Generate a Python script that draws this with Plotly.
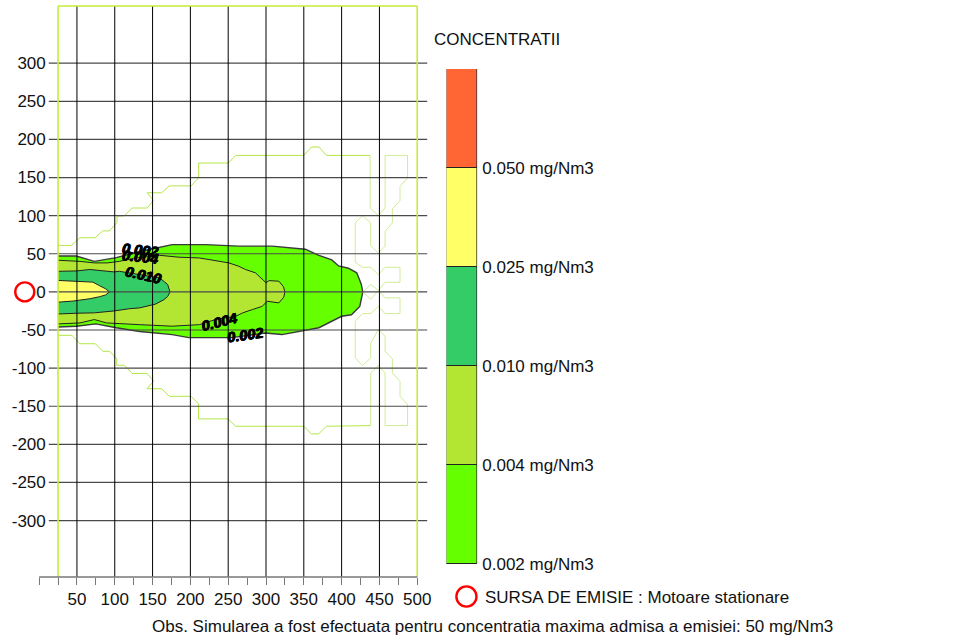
import plotly.graph_objects as go

# ---------------- data ----------------
# axis ticks
x_major = [50, 100, 150, 200, 250, 300, 350, 400, 450, 500]
x_minor = [0, 25, 75, 125, 175, 225, 275, 325, 375, 425, 475]
y_ticks = [300, 250, 200, 150, 100, 50, 0, -50, -100, -150, -200, -250, -300]

# concentration levels (mg/Nm3) and their colours (band above each level)
levels = [0.002, 0.004, 0.010, 0.025, 0.050]
band_colors = ["#66ff00", "#b3e633", "#33cc66", "#ffff66", "#ff6633"]

# contour 0.002 (upper / lower edge, left -> tip)
c002_x_up = [25, 49, 73, 102, 133, 155, 176, 220, 264, 308, 352, 370, 387, 396, 409, 420, 426, 428]
c002_y_up = [47, 47, 40, 45, 53, 58, 62, 62, 60, 60, 56, 48, 42, 34, 31, 25, 10, 0]
c002_x_lo = [25, 49, 75, 102, 133, 150, 176, 198, 229, 255, 299, 321, 352, 370, 400, 413, 424, 428]
c002_y_lo = [-46, -45, -42, -47, -52, -54, -56, -60, -60, -60, -54, -56, -50, -47, -32, -30, -19, 0]

# contour 0.004
c004_x_up = [25, 54, 73, 90, 106, 125, 159, 185, 212, 238, 251, 264, 273, 286, 295, 300, 304, 317, 323, 325]
c004_y_up = [41.5, 40, 38, 38, 40, 44, 48, 45.5, 44.5, 40, 38, 33.6, 29.3, 25, 16, 12, 14.8, 14, 7, 0]
c004_x_lo = [25, 54, 73, 89, 133, 176, 212, 234, 260, 269, 282, 295, 301.5, 317, 323.5, 325]
c004_y_lo = [-42, -40.7, -36.3, -40.7, -43, -45, -43, -36, -32, -27.6, -23.2, -19, -12.3, -14.4, -7, 0]

# contour 0.010
c010_x_up = [25, 50, 67, 99, 106, 133, 159, 166, 170, 173]
c010_y_up = [27, 27.5, 29.4, 26.2, 27, 23, 18.4, 13, 9.6, 0]
c010_x_lo = [25, 50, 73, 99, 120, 133, 154, 165, 170, 173]
c010_y_lo = [-29, -28, -27.5, -25, -22, -21, -16, -10.2, -6, 0]

# contour 0.025
c025_x_up = [25, 58, 71, 80, 88, 93]
c025_y_up = [15, 14, 12.8, 8, 4, 0]
c025_x_lo = [25, 45, 67, 80, 88, 93]
c025_y_lo = [-13.5, -12, -9, -6.3, -4, 0]

# faint outer iso-line (stepped), upper branch
out_up_x = [25, 43, 54, 74, 84, 93, 103, 103, 113, 123, 143, 151, 143, 162, 172, 201, 211, 211,
            250, 260, 350, 360, 370, 380, 437.7]
out_up_y = [61, 61, 71, 71, 80, 80, 91, 99, 100, 110, 110, 120, 130, 130, 139, 139, 150, 169,
            169, 179, 179, 190, 190, 179, 179]
# faint outer iso-line, lower branch
out_lo_x = [25, 43.5, 53.6, 74.3, 84.3, 93.1, 102.7, 102.7, 112.9, 123, 142.7, 151.4, 142.7, 162,
            172.1, 200.7, 210.7, 210.7, 249.8, 259.9, 349.9, 360, 369.6, 379.8, 438.5]
out_lo_y = [-57, -57, -68, -68, -78, -78, -87.5, -96.3, -96.3, -107, -107, -117, -127, -127,
            -137, -137, -146.5, -166.6, -166.6, -176.3, -176.3, -186.3, -186.3, -176.3, -175.4]
# faint iso-line wiggles near the right border (upper / lower)
edge_up_x = [437.7, 437.7, 448.6, 457.5, 457.5, 487.2, 487.2, 477.2, 477.2, 467.1, 467.1, 457.5,
             457.5, 448.6, 438.5, 438.5, 427.6, 418, 418, 427.6, 438.5, 448.6, 457.5, 477.2,
             477.2, 457.5, 448.6, 438.5, 428]
edge_up_y = [179, 110, 100, 110, 179, 179, 149.5, 138.5, 119.8, 108.9, 90.5, 79.5,
             59.8, 51.2, 60.7, 90.5, 100.1, 90.5, 38.8, 32.3, 32.3, 22.7, 32.3, 32.3,
             12.6, 12.6, 2, -9.6, 0]
edge_lo_x = [438.5, 438.5, 448.6, 457.5, 457.5, 487.2, 487.2, 477.2, 477.2, 467.1, 467.1, 457.5,
             457.5, 448.6, 438.5, 438.5, 427.6, 418, 418, 427.6, 438.5, 448.6, 457.5, 477.2,
             477.2, 457.5, 448.6, 438.5, 428]
edge_lo_y = [-175.4, -106.3, -96.7, -106.3, -175.4, -175.4, -147.8, -137, -117.3, -106.3, -87.9, -77.9,
             -58.2, -49.5, -66.9, -86.6, -96.7, -86.6, -38.6, -28.5, -28.5, -18.9, -28.5, -28.5,
             -7.9, -7.9, 2, 9.6, 0]

# contour labels
lab_text = ["0.002", "0.004", "0.010", "0.004", "0.002"]
lab_x = [134, 134, 137, 238, 272]
lab_y = [55.5, 45.6, 22, -39, -56]
lab_ang = [6, 6, 13, -14, -8]

source_x, source_y = [-19], [0]

# ---------------- figure ----------------
FONT = "Liberation Sans, Arial, sans-serif"
FS = 17
W, H = 954, 636
ML, MR, MT, MB = 0, 0, 6, 59
PW, PH = W - ML - MR, H - MT - MB


def px(xp):
    return xp / PW


def py(yp):
    return (H - MB - yp) / PH


fig = go.Figure()

contours = [
    (c002_x_up, c002_y_up, c002_x_lo, c002_y_lo, band_colors[0], "#3a3a3a", 1.4),
    (c004_x_up, c004_y_up, c004_x_lo, c004_y_lo, band_colors[1], "#222222", 1.0),
    (c010_x_up, c010_y_up, c010_x_lo, c010_y_lo, band_colors[2], "#222222", 1.0),
    (c025_x_up, c025_y_up, c025_x_lo, c025_y_lo, band_colors[3], "#222222", 1.0),
]
for xu, yu, xl, yl, col, lcol, lw in contours:
    xs = list(xu) + list(reversed(xl))
    ys = list(yu) + list(reversed(yl))
    fig.add_trace(go.Scatter(x=xs, y=ys, mode="lines", fill="toself", fillcolor=col,
                             line=dict(width=0, color=col), hoverinfo="skip", showlegend=False))
    fig.add_trace(go.Scatter(x=xs, y=ys, mode="lines", line=dict(width=lw, color=lcol),
                             hoverinfo="skip", showlegend=False))

# faint outer iso-lines
fig.add_trace(go.Scatter(x=out_up_x, y=out_up_y, mode="lines", line=dict(width=1, color="#b4e648"),
                         hoverinfo="skip", showlegend=False))
fig.add_trace(go.Scatter(x=out_lo_x, y=out_lo_y, mode="lines", line=dict(width=1, color="#b4e648"),
                         hoverinfo="skip", showlegend=False))
fig.add_trace(go.Scatter(x=edge_up_x, y=edge_up_y, mode="lines", line=dict(width=1, color="#cfec96"),
                         hoverinfo="skip", showlegend=False))
fig.add_trace(go.Scatter(x=edge_lo_x, y=edge_lo_y, mode="lines", line=dict(width=1, color="#cfec96"),
                         hoverinfo="skip", showlegend=False))

# emission source
fig.add_trace(go.Scatter(x=source_x, y=source_y, mode="markers", cliponaxis=False,
                         marker=dict(symbol="circle-open", size=19, color="#ff0000",
                                     line=dict(width=2.4, color="#ff0000")),
                         hoverinfo="skip", showlegend=False))

# colour scale as stacked bar
n = len(levels)
fig.add_trace(go.Bar(x=[0] * n, y=[1] * n, base=list(range(n)), width=1,
                     marker=dict(color=band_colors, line=dict(color="#222222", width=1)),
                     xaxis="x2", yaxis="y2", hoverinfo="skip", showlegend=False))

shapes = []
# horizontal grid lines
for v in y_ticks:
    shapes.append(dict(type="line", xref="paper", yref="y", x0=px(49), x1=px(429), y0=v, y1=v,
                       line=dict(color="#4a4a4a", width=1.2), layer="above"))
# vertical grid lines
for v in x_major[:-1]:
    shapes.append(dict(type="line", xref="x", yref="paper", x0=v, x1=v, y0=0, y1=1,
                       line=dict(color="#000000", width=1), layer="above"))
# domain frame (yellow-green)
for v in (25, 500):
    shapes.append(dict(type="line", xref="x", yref="paper", x0=v, x1=v, y0=0, y1=1,
                       line=dict(color="#c4ec3c", width=1.6), layer="above"))
shapes.append(dict(type="line", xref="x", yref="paper", x0=25, x1=500, y0=1, y1=1,
                   line=dict(color="#c4ec3c", width=1.6), layer="above"))
# bottom axis line
shapes.append(dict(type="line", xref="x", yref="paper", x0=0, x1=500, y0=0, y1=0,
                   line=dict(color="#777777", width=1.5), layer="above"))
# legend circle
shapes.append(dict(type="circle", xref="paper", yref="paper", x0=px(458.3), x1=px(478.5),
                   y0=py(606.6), y1=py(586.4), line=dict(color="#ff0000", width=2.4)))

annotations = []
for t, x, y, a in zip(lab_text, lab_x, lab_y, lab_ang):
    annotations.append(dict(x=x, y=y, xref="x", yref="y", text="<b><i>%s</i></b>" % t,
                            showarrow=False, textangle=a,
                            font=dict(family="Liberation Sans, Arial, sans-serif", size=14.5,
                                      color="#000000", weight="bold", style="italic",
                                      shadow="0.6px 0 0 #000, -0.4px 0 0 #000, 0 0.4px 0 #000")))
annotations.append(dict(x=px(434.3), y=py(40), xref="paper", yref="paper", text="CONCENTRATII",
                        showarrow=False, xanchor="left", yanchor="middle",
                        font=dict(family=FONT, size=FS, color="#111111")))
annotations.append(dict(x=px(485.5), y=py(597.5), xref="paper", yref="paper",
                        text="SURSA DE EMISIE : Motoare stationare",
                        showarrow=False, xanchor="left", yanchor="middle",
                        font=dict(family=FONT, size=FS, color="#111111")))
annotations.append(dict(x=px(495), y=py(626), xref="paper", yref="paper",
                        text="Obs. Simularea a fost efectuata pentru concentratia maxima admisa a emisiei: 50 mg/Nm3",
                        showarrow=False, xanchor="center", yanchor="middle",
                        font=dict(family=FONT, size=FS, color="#111111")))

# x axis: 0 at pixel 39.3, 500 at pixel 419 ; the x domain spans pixels 0..429.3
x_scale = (419.0 - 39.3) / 500.0
x_lo = -39.3 / x_scale
x_hi = (429.3 - 39.3) / x_scale

fig.update_layout(
    width=W, height=H,
    margin=dict(l=ML, r=MR, t=MT, b=MB, pad=0),
    paper_bgcolor="white", plot_bgcolor="white",
    font=dict(family=FONT, size=FS, color="#111111"),
    showlegend=False,
    bargap=0,
    xaxis=dict(domain=[0, px(429.3)], range=[x_lo, x_hi],
               tickmode="array", tickvals=x_major, ticktext=[str(v) for v in x_major],
               ticks="outside", ticklen=7, tickwidth=1, tickcolor="#777777",
               minor=dict(tickmode="array", tickvals=x_minor, ticks="outside", ticklen=7,
                          tickwidth=1, tickcolor="#777777", showgrid=False),
               showgrid=False, zeroline=False, showline=False, anchor="y",
               tickfont=dict(family=FONT, size=FS, color="#111111")),
    yaxis=dict(domain=[0, 1], range=[-374, 375], anchor="free", position=px(49),
               tickmode="array", tickvals=y_ticks, ticktext=[str(v) for v in y_ticks],
               ticks="", showgrid=False, zeroline=False, showline=False, ticklabelstandoff=3,
               tickfont=dict(family=FONT, size=FS, color="#111111")),
    xaxis2=dict(domain=[px(448.3), px(479.3)], range=[-0.5, 0.5], anchor="y2",
                visible=False, fixedrange=True),
    yaxis2=dict(domain=[py(564), py(69)], range=[0, n], anchor="x2", side="right",
                tickmode="array", tickvals=list(range(n)),
                ticktext=["%.3f mg/Nm3" % v for v in levels], ticklabelstandoff=4,
                ticks="", showgrid=False, zeroline=False, showline=False,
                tickfont=dict(family=FONT, size=FS, color="#111111")),
    shapes=shapes,
    annotations=annotations,
)

fig.write_html("out.html", config={"displayModeBar": False},
               post_script="document.body.style.margin='0';document.body.style.overflow='hidden';")
